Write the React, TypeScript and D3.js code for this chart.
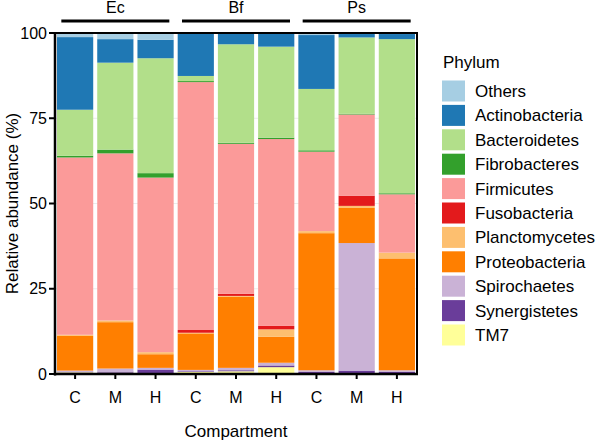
import React from "react";
import * as d3 from "d3";

const categories = ["C", "M", "H", "C", "M", "H", "C", "M", "H"];
const groups = ["Ec", "Bf", "Ps"];
const yTicks = [0, 25, 50, 75, 100];

// legend order (top to bottom)
const phyla = [
  "Others",
  "Actinobacteria",
  "Bacteroidetes",
  "Fibrobacteres",
  "Firmicutes",
  "Fusobacteria",
  "Planctomycetes",
  "Proteobacteria",
  "Spirochaetes",
  "Synergistetes",
  "TM7",
];

const others = [1.2, 1.8, 2.0, 0.2, 0.1, 0.1, 0.6, 0.3, 0.3];
const actinobacteria = [21.3, 6.9, 5.4, 12.4, 3.2, 3.9, 15.8, 1.0, 1.5];
const bacteroidetes = [13.5, 25.5, 33.7, 1.5, 28.9, 26.7, 18.0, 22.4, 45.2];
const fibrobacteres = [0.5, 1.1, 1.3, 0.3, 0.3, 0.4, 0.4, 0.2, 0.3];
const firmicutes = [52.0, 49.0, 51.2, 72.7, 44.0, 54.8, 23.3, 23.8, 17.1];
const fusobacteria = [0, 0, 0, 0.8, 0.6, 1.0, 0, 3.0, 0];
const planctomycetes = [0.3, 0.5, 0.6, 0.2, 0.2, 2.2, 0.6, 0.6, 1.7];
const proteobacteria = [10.2, 13.6, 4.0, 10.7, 20.9, 7.6, 40.2, 10.3, 32.8];
const spirochaetes = [0.3, 0.9, 0.5, 0.4, 0.7, 0.8, 0.5, 37.4, 0.5];
const synergistetes = [0.2, 0.3, 1.0, 0.2, 0.3, 0.5, 0.3, 1.0, 0.4];
const tm7 = [0.5, 0.4, 0.3, 0.6, 0.8, 2.0, 0.3, 0, 0.2];

const seriesValues = [
  others,
  actinobacteria,
  bacteroidetes,
  fibrobacteres,
  firmicutes,
  fusobacteria,
  planctomycetes,
  proteobacteria,
  spirochaetes,
  synergistetes,
  tm7,
];

const colors = d3.schemePaired;

export default function App() {
  const W = 596;
  const H = 443;
  const x0 = 55,
    x1 = 417,
    yTop = 33,
    yBot = 374;
  const font = "'Liberation Sans', Arial, Helvetica, sans-serif";

  const idx = categories.map((_, i) => i);
  const x = d3
    .scaleBand<number>()
    .domain(idx)
    .range([x0, x1])
    .paddingInner(0.1)
    .paddingOuter(0.05);
  const y = d3.scaleLinear().domain([0, 100]).range([yBot, yTop]);

  // stacking bottom-to-top: reverse of legend order
  const stackKeys = phyla.slice().reverse();
  const rows = idx.map((i) => {
    const r: Record<string, number> = { i };
    phyla.forEach((p, k) => {
      r[p] = seriesValues[k][i];
    });
    return r;
  });
  const stacked = d3.stack<Record<string, number>>().keys(stackKeys)(rows);
  const colorOf = (p: string) => colors[phyla.indexOf(p)];

  const bw = x.bandwidth();

  return (
    <svg
      width={W}
      height={H}
      style={{ position: "absolute", left: 0, top: 0, background: "#fff" }}
      fontFamily={font}
    >
      <rect x={0} y={0} width={W} height={H} fill="#fff" />
      {/* faint gridlines */}
      {yTicks.slice(1, 4).map((t) => (
        <line key={"g" + t} x1={x0} x2={x1} y1={y(t)} y2={y(t)} stroke="#ececec" strokeWidth={1} />
      ))}
      {/* bars */}
      {stacked.map((s) => (
        <g key={s.key} fill={colorOf(s.key)}>
          {s.map((d, i) => {
            const h = y(d[0]) - y(d[1]);
            if (h <= 0) return null;
            return <rect key={i} x={x(i)} y={y(d[1])} width={bw} height={h} />;
          })}
        </g>
      ))}
      {/* frame */}
      <line x1={x0} x2={x1} y1={yTop} y2={yTop} stroke="#000" strokeWidth={2} />
      <line x1={x1} x2={x1} y1={yTop - 1} y2={yBot + 1} stroke="#000" strokeWidth={2} />
      <line x1={x0} x2={x0} y1={yTop - 1} y2={yBot + 1.5} stroke="#000" strokeWidth={2.5} />
      <line x1={x0 - 1} x2={x1 + 1} y1={yBot} y2={yBot} stroke="#000" strokeWidth={2.5} />
      {/* y ticks */}
      {yTicks.map((t) => (
        <g key={"y" + t}>
          <line x1={x0 - 6} x2={x0} y1={y(t)} y2={y(t)} stroke="#000" strokeWidth={2} />
          <text x={x0 - 8} y={y(t)} dy="0.35em" textAnchor="end" fontSize={16}>
            {t}
          </text>
        </g>
      ))}
      {/* x ticks */}
      {idx.map((i) => {
        const cx = (x(i) as number) + bw / 2;
        return (
          <g key={"x" + i}>
            <line x1={cx} x2={cx} y1={yBot} y2={yBot + 5} stroke="#000" strokeWidth={2} />
            <text x={cx} y={403} textAnchor="middle" fontSize={16}>
              {categories[i]}
            </text>
          </g>
        );
      })}
      {/* group labels */}
      {groups.map((g, gi) => {
        const mid = (x(gi * 3 + 1) as number) + bw / 2;
        return (
          <g key={g}>
            <line x1={mid - 54} x2={mid + 54} y1={21} y2={21} stroke="#000" strokeWidth={3} />
            <text x={mid} y={13} textAnchor="middle" fontSize={16}>
              {g}
            </text>
          </g>
        );
      })}
      {/* axis titles */}
      <text x={(x0 + x1) / 2} y={437} textAnchor="middle" fontSize={17}>
        Compartment
      </text>
      <text
        transform={`translate(18, ${(yTop + yBot) / 2}) rotate(-90)`}
        textAnchor="middle"
        fontSize={17}
      >
        Relative abundance (%)
      </text>
      {/* legend */}
      <text x={443} y={68} fontSize={17}>
        Phylum
      </text>
      {phyla.map((p, k) => {
        const cy = 91 + k * 24.4;
        return (
          <g key={"l" + p}>
            <rect x={442} y={cy - 10.5} width={23} height={21} fill={colors[k]} />
            <text x={475} y={cy} dy="0.35em" fontSize={17}>
              {p}
            </text>
          </g>
        );
      })}
    </svg>
  );
}
